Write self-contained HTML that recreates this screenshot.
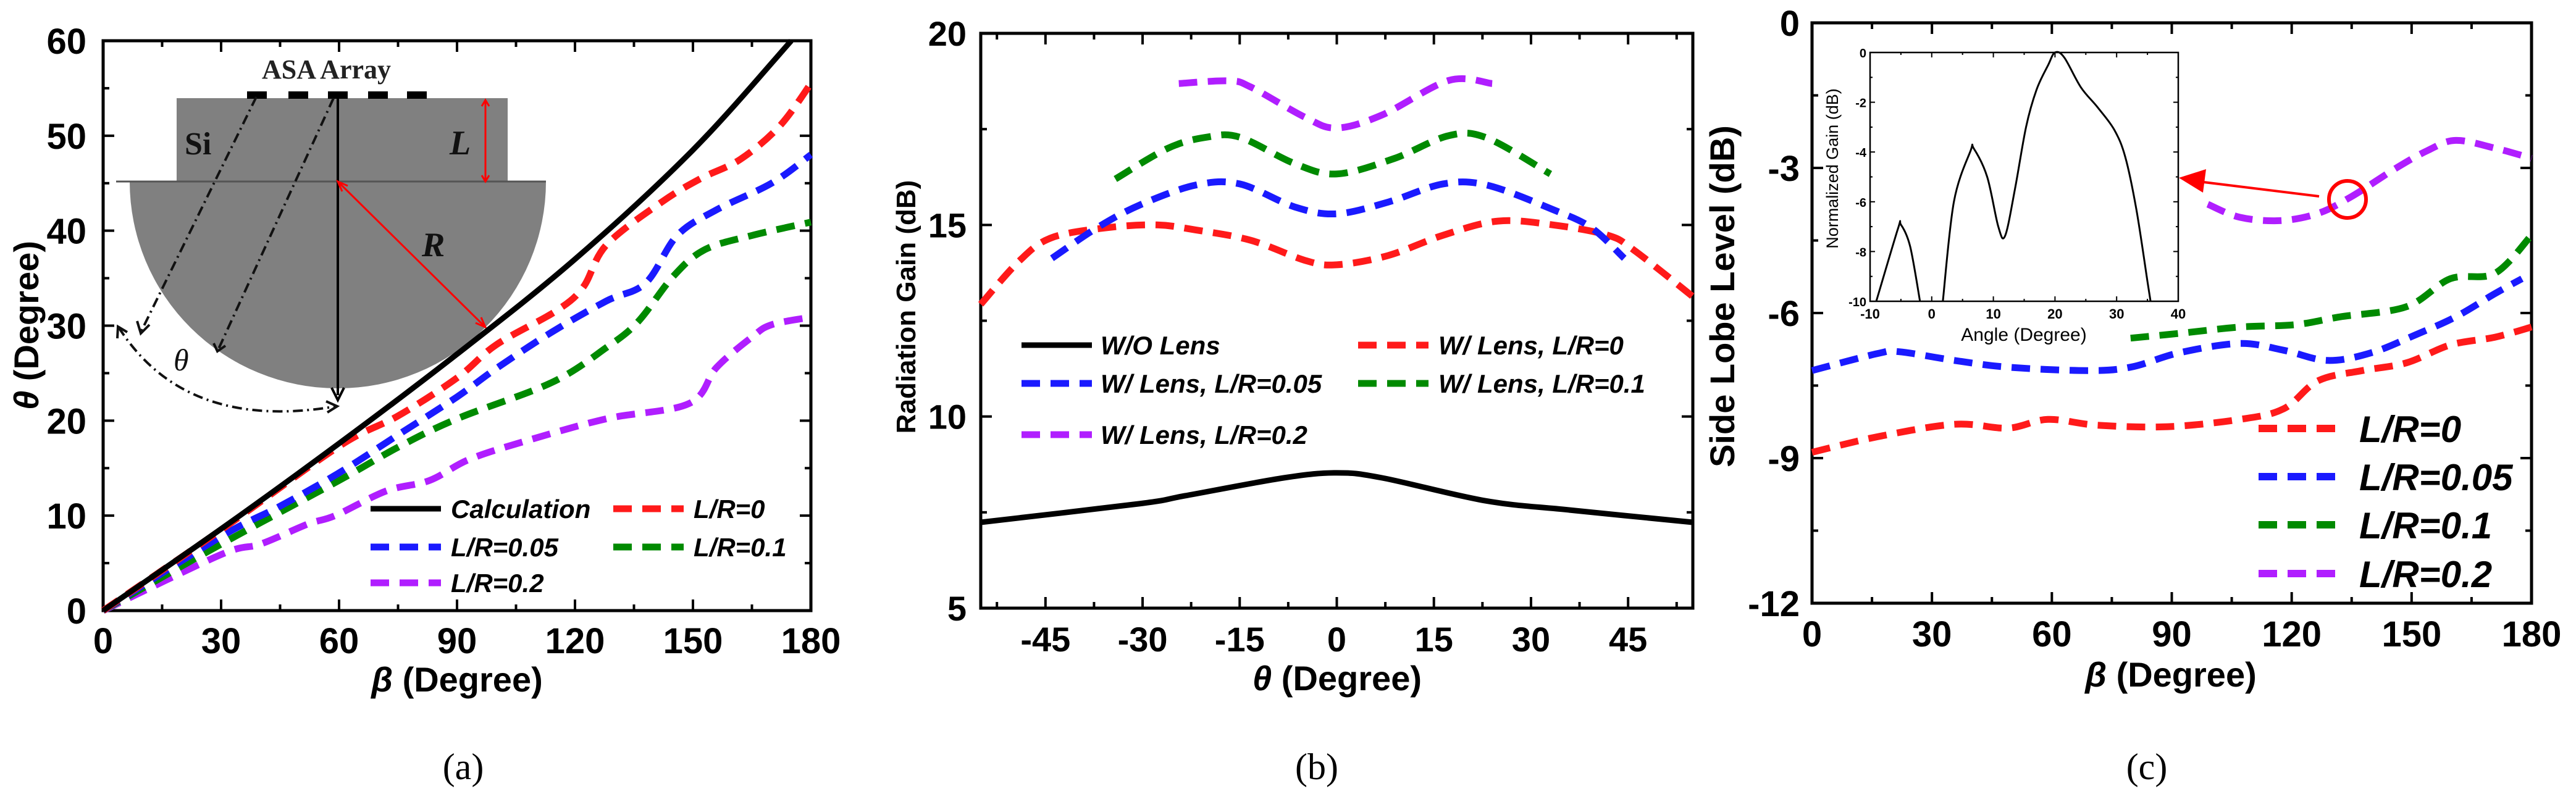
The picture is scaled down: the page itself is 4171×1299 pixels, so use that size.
<!DOCTYPE html>
<html><head><meta charset="utf-8"><style>
html,body{margin:0;padding:0;background:#fff;}
svg{display:block;}
text{font-family:"Liberation Sans",sans-serif;}
.serif{font-family:"Liberation Serif",serif;}
</style></head><body>
<svg id="fig" width="4171" height="1299" viewBox="0 0 4171 1299" xmlns="http://www.w3.org/2000/svg">
<rect width="4171" height="1299" fill="#fff"/>
<g id="schem">
  <path d="M210,294 A337,335 0 0 0 884,294 Z" fill="#808080"/>
  <rect x="286" y="159" width="536" height="135" fill="#808080"/>
  <line x1="188" y1="294" x2="884" y2="294" stroke="#555" stroke-width="3"/>
  <g fill="#000">
    <rect x="400" y="148" width="32" height="12"/><rect x="467" y="148" width="32" height="12"/><rect x="531" y="148" width="32" height="12"/><rect x="596" y="148" width="32" height="12"/><rect x="659" y="148" width="32" height="12"/>
  </g>
  <text x="424" y="127" class="serif" font-size="44" font-weight="bold" fill="#222">ASA Array</text>
  <text x="299" y="250" class="serif" font-size="52" font-weight="bold" fill="#111">Si</text>
  <text x="728" y="250" class="serif" font-size="56" font-weight="bold" font-style="italic" fill="#111">L</text>
  <text x="683" y="415" class="serif" font-size="56" font-weight="bold" font-style="italic" fill="#111">R</text>
  <text x="281" y="600" class="serif" font-size="50" font-style="italic" fill="#111">θ</text>
  <line x1="547" y1="159" x2="547" y2="640" stroke="#000" stroke-width="4"/>
  <path d="M537,628 L547,648 L557,628" fill="none" stroke="#000" stroke-width="4"/>
  <line x1="547" y1="294" x2="786" y2="530" stroke="#f00" stroke-width="3"/>
  <path d="M554,310 L547,294 L563,301 M770,523 L786,530 L779,514" fill="none" stroke="#f00" stroke-width="3"/>
  <line x1="786" y1="163" x2="786" y2="292" stroke="#f00" stroke-width="3"/>
  <path d="M780,172 L786,162 L792,172 M780,284 L786,294 L792,284" fill="none" stroke="#f00" stroke-width="3"/>
  <g stroke="#111" stroke-width="4" fill="none" stroke-dasharray="16 7 3 7">
    <line x1="415" y1="157" x2="228" y2="538"/>
    <line x1="540" y1="159" x2="353" y2="567"/>
    <path d="M192,530 Q300,700 545,658"/>
  </g>
  <path d="M222,520 L228,540 L242,526 M346,556 L352,569 L365,560 M190,548 L191,529 L206,538 M528,650 L546,658 L530,668" fill="none" stroke="#111" stroke-width="4"/>
</g>
<g id="layer"></g>
<text x="750" y="1262" class="serif" font-size="60" text-anchor="middle" fill="#000">(a)</text>
<text x="2132" y="1262" class="serif" font-size="60" text-anchor="middle" fill="#000">(b)</text>
<text x="3476" y="1262" class="serif" font-size="60" text-anchor="middle" fill="#000">(c)</text>
</svg>
<script>
const aCalcX=[0,30,60,90,120,150,175];
const aCalcY=[0,8.6,17.6,27,37,48.5,60];
const aR0X=[0,30,60,75,90,100,115,122,128,142,152,162,172,180];
const aR0Y=[0,8.5,17.3,20.5,24.5,28,31.5,34,38.5,43,45.5,47.5,51,55.5];
const aR05X=[0,30,45,60,75,90,100,114,128,138,146,156,170,180];
const aR05Y=[0,7.8,11,14.5,18.5,22.5,25.5,29.3,32.6,34.5,39.5,42.2,45,48];
const aR1X=[0,30,60,75,90,114,128,136,145,153,165,180];
const aR1Y=[0,7,13.7,17.2,20.2,24,27.7,30.4,35.2,38,39.5,40.9];
const aR2X=[0,30,40,52,59,72,83,93,107,128,149,156,165,170,180];
const aR2Y=[0,5.9,7,9.1,10,12.6,13.7,15.9,17.8,20.2,21.8,25.6,28.8,30.1,30.9];
const aXTicks=["0","30","60","90","120","150","180"];
const aYTicks=["0","10","20","30","40","50","60"];
const bNoX=[-55,-30.3,-23.5,-8.2,0,7,23,36,55];
const bNoY=[7.24,7.73,7.93,8.4,8.53,8.4,7.8,7.56,7.24];
const bR0X=[-55,-49,-44,-35.4,-27.8,-21.8,-13.3,-4.8,0,7.9,16.4,24.9,33.4,41.9,46,55];
const bR0Y=[12.93,14.07,14.67,14.93,15,14.87,14.6,14.07,13.96,14.2,14.73,15.1,15,14.73,14.33,13.13];
const bR05X=[-44,-37,-30.3,-21.8,-15,-6.5,0,8,16.4,23.2,33.4,39.3,44.4];
const bR05Y=[14.13,14.93,15.53,16.04,16.07,15.47,15.29,15.6,16.07,16.04,15.4,14.93,14.13];
const bR1X=[-34.2,-26.1,-20.1,-15,-6.5,0,8.8,17.3,23.2,33];
const bR1Y=[16.2,17,17.29,17.29,16.6,16.33,16.73,17.33,17.27,16.33];
const bR2X=[-24.4,-16.7,-13.3,-4.8,0,7,17.3,24];
const bR2Y=[18.69,18.76,18.6,17.8,17.53,17.87,18.77,18.69];
const bXTicks=["-45","-30","-15","0","15","30","45"];
const bYTicks=["5","10","15","20"];
const cR0X=[0,16.3,35.6,49,59,71.4,89,107,118,126.6,137.7,148.7,159.7,170.8,180];
const cR0Y=[-8.88,-8.56,-8.3,-8.38,-8.2,-8.32,-8.35,-8.2,-7.98,-7.4,-7.19,-7.03,-6.66,-6.5,-6.29];
const cR05X=[0,16.3,21.8,35.6,49,68.7,79.7,92,107,118,129,140,151,161,170.8,177.6];
const cR05Y=[-7.19,-6.84,-6.8,-6.98,-7.12,-7.19,-7.12,-6.82,-6.63,-6.77,-6.98,-6.82,-6.45,-6.08,-5.6,-5.29];
const cR1X=[79.7,92,107,121,132,148.7,159.7,170.8,180];
const cR1Y=[-6.52,-6.42,-6.29,-6.24,-6.08,-5.87,-5.29,-5.18,-4.39];
const cR2X=[99,107,117,126.6,135,146,154,161,170.8,180];
const cR2Y=[-3.75,-4.02,-4.09,-3.94,-3.59,-3.01,-2.64,-2.43,-2.59,-2.8];
const cXTicks=["0","30","60","90","120","150","180"];
const cYTicks=["-12","-9","-6","-3","0"];
const insX=[-9,-5.5,-5,-3.5,-1.9];
const insY=[-10,-7.1,-6.92,-7.8,-10];
const insX2=[1.8,3.6,6.3,6.8,9,10.8,11.9,13.5,15.3,17,18.9,20,21.5,24.2,26.9,29.6,31.4,33.2,35,35.5];
const insY2=[-10,-6,-3.95,-3.85,-5,-7,-7.37,-5.5,-3,-1.5,-0.5,0,-0.2,-1.4,-2.2,-3.1,-4.2,-6.3,-9.2,-10];
const insXTicks=["-10","0","10","20","30","40"];
const insYTicks=["-10","-8","-6","-4","-2","0"];

const NS="http://www.w3.org/2000/svg";
const layer=document.getElementById('layer');
function mk(tag,attrs,parent){const e=document.createElementNS(NS,tag);for(const k in attrs)e.setAttribute(k,attrs[k]);(parent||layer).appendChild(e);return e;}
function scale(d0,d1,p0,p1){return v=>p0+(v-d0)/(d1-d0)*(p1-p0);}
function smooth(pts){let d="M"+pts[0][0].toFixed(1)+","+pts[0][1].toFixed(1);
 for(let i=0;i<pts.length-1;i++){const p0=pts[Math.max(0,i-1)],p1=pts[i],p2=pts[i+1],p3=pts[Math.min(pts.length-1,i+2)];
  const c1=[p1[0]+(p2[0]-p0[0])/6,p1[1]+(p2[1]-p0[1])/6],c2=[p2[0]-(p3[0]-p1[0])/6,p2[1]-(p3[1]-p1[1])/6];
  d+="C"+c1[0].toFixed(1)+","+c1[1].toFixed(1)+" "+c2[0].toFixed(1)+","+c2[1].toFixed(1)+" "+p2[0].toFixed(1)+","+p2[1].toFixed(1);}
 return d;}
function series(xs,ys,sx,sy,color,w,dash,clip){
 const pts=xs.map((x,i)=>[sx(x),sy(ys[i])]);
 const p=mk('path',{d:smooth(pts),fill:'none',stroke:color,'stroke-width':w});
 if(dash)p.setAttribute('stroke-dasharray',dash);
 if(clip)p.setAttribute('clip-path',clip);
 return p;}
function frame(x0,y0,x1,y1,sw,xmaj,ymaj,xmin,ymin,sx,sy,tl,tlm){
 const g=mk('g',{});
 
 
 mk('rect',{x:x0,y:y0,width:x1-x0,height:y1-y0,fill:'none',stroke:'#000','stroke-width':sw},g);
 [[xmaj,tl],[xmin,tlm]].forEach(([arr,len])=>arr.forEach(v=>{const x=sx(v);mk('line',{x1:x,y1:y1,x2:x,y2:y1-len,stroke:'#000','stroke-width':sw*0.8},g);mk('line',{x1:x,y1:y0,x2:x,y2:y0+len,stroke:'#000','stroke-width':sw*0.8},g);}));
 [[ymaj,tl],[ymin,tlm]].forEach(([arr,len])=>arr.forEach(v=>{const y=sy(v);mk('line',{x1:x0,y1:y,x2:x0+len,y2:y,stroke:'#000','stroke-width':sw*0.8},g);mk('line',{x1:x1,y1:y,x2:x1-len,y2:y,stroke:'#000','stroke-width':sw*0.8},g);}));
}
function txt(x,y,s,size,anchor,extra){const t=mk('text',Object.assign({x:x,y:y,'font-size':size,'font-weight':'bold','text-anchor':anchor||'middle',fill:'#000'},extra||{}));t.textContent=s;return t;}
const RED='#ff1a1a',BLUE='#1a1aff',GREEN='#008a00',PURP='#b01eff';
const DASH='30 17';

{
 const sx=scale(0,180,167,1313), sy=scale(0,60,989,66);
 frame(167,66,1313,989,5,[0,30,60,90,120,150,180],[0,10,20,30,40,50,60],[15,45,75,105,135,165],[5,15,25,35,45,55],sx,sy,18,10);
 const cl=mk('clipPath',{id:'clipA'});mk('rect',{x:0,y:60,width:1320,height:940},cl);
 let p;
 p=series(aR2X,aR2Y,sx,sy,PURP,11,DASH,'url(#clipA)');
 
 
 p=series(aR1X,aR1Y,sx,sy,GREEN,11,DASH,'url(#clipA)');
 
 
 p=series(aR05X,aR05Y,sx,sy,BLUE,11,DASH,'url(#clipA)');
 
 
 p=series(aR0X,aR0Y,sx,sy,RED,11,DASH,'url(#clipA)');
 
 
 p=series(aCalcX,aCalcY,sx,sy,'#000',9,null,'url(#clipA)');
 
 
 aXTicks.forEach(s=>{const t=txt(sx(+s),1058,s,58);
  
  });
 aYTicks.forEach(s=>{const t=txt(140,sy(+s)+21,s,58,'end');
  
  });
 let t=txt(740,1120,'',56);t.innerHTML='<tspan font-style="italic">β</tspan> (Degree)';
 
 
 t=txt(0,0,'',56,'middle',{transform:'translate(62,527) rotate(-90)'});t.innerHTML='<tspan font-style="italic">θ</tspan> (Degree)';
 
 
 const leg=[[600,824,'#000',null,'Calculation',730],[993,824,RED,DASH,'L/R=0',1123],[600,886,BLUE,DASH,'L/R=0.05',730],[993,886,GREEN,DASH,'L/R=0.1',1123],[600,944,PURP,DASH,'L/R=0.2',730]];
 leg.forEach(l=>{const g=mk('g',{});
  
  
  const ln=mk('line',{x1:l[0],y1:l[1],x2:l[0]+114,y2:l[1],stroke:l[2],'stroke-width':l[3]?11:9},g);if(l[3])ln.setAttribute('stroke-dasharray',l[3]);
  const tt=mk('text',{x:l[5],y:l[1]+15,'font-size':42,'font-weight':'bold','font-style':'italic'},g);tt.textContent=l[4];});
}
{
 const sx=scale(-55,55,1588,2741), sy=scale(5,20,985,54);
 frame(1588,54,2741,985,5,[-45,-30,-15,0,15,30,45],[5,10,15,20],[-52.5,-37.5,-22.5,-7.5,7.5,22.5,37.5,52.5],[7.5,12.5,17.5],sx,sy,18,10);
 let p;
 p=series(bNoX,bNoY,sx,sy,'#000',9,null);
 
 
 p=series(bR0X,bR0Y,sx,sy,RED,11,DASH);
 
 
 p=series(bR05X,bR05Y,sx,sy,BLUE,11,DASH);
 
 
 p=series(bR1X,bR1Y,sx,sy,GREEN,11,DASH);
 
 
 p=series(bR2X,bR2Y,sx,sy,PURP,11,DASH);
 
 
 bXTicks.forEach(s=>{const t=txt(sx(+s),1055,s,56);
  
  });
 bYTicks.forEach(s=>{const t=txt(1565,sy(+s)+20,s,56,'end');
  
  });
 let t=txt(2165,1118,'',56);t.innerHTML='<tspan font-style="italic">θ</tspan> (Degree)';
 
 
 t=txt(0,0,'Radiation Gain (dB)',44,'middle',{transform:'translate(1482,497) rotate(-90)'});
 
 
 const leg=[[1654,559,'#000',null,'W/O Lens',1782],[2199,559,RED,DASH,'W/ Lens, L/R=0',2329],[1654,621,BLUE,DASH,'W/ Lens, L/R=0.05',1782],[2199,621,GREEN,DASH,'W/ Lens, L/R=0.1',2329],[1654,704,PURP,DASH,'W/ Lens, L/R=0.2',1782]];
 leg.forEach(l=>{const g=mk('g',{});
  
  
  const ln=mk('line',{x1:l[0],y1:l[1],x2:l[0]+114,y2:l[1],stroke:l[2],'stroke-width':l[3]?11:9},g);if(l[3])ln.setAttribute('stroke-dasharray',l[3]);
  const tt=mk('text',{x:l[5],y:l[1]+15,'font-size':42,'font-weight':'bold','font-style':'italic'},g);tt.textContent=l[4];});
}
{
 const sx=scale(0,180,2934,4099), sy=scale(-12,0,977,37);
 frame(2934,37,4099,977,5,[0,30,60,90,120,150,180],[-12,-9,-6,-3,0],[15,45,75,105,135,165],[-10.5,-7.5,-4.5,-1.5],sx,sy,18,10);
 let p;
 p=series(cR0X,cR0Y,sx,sy,RED,11,DASH);
 
 
 p=series(cR05X,cR05Y,sx,sy,BLUE,11,DASH);
 
 
 p=series(cR1X,cR1Y,sx,sy,GREEN,11,DASH);
 
 
 p=series(cR2X,cR2Y,sx,sy,PURP,11,DASH);
 
 
 cXTicks.forEach(s=>{const t=txt(sx(+s),1047,s,58);
  
  });
 cYTicks.forEach(s=>{const t=txt(2914,sy(+s)+21,s,58,'end');
  
  });
 let t=txt(3515,1112,'',56);t.innerHTML='<tspan font-style="italic">β</tspan> (Degree)';
 
 
 t=txt(0,0,'Side Lobe Level (dB)',56,'middle',{transform:'translate(2808,480) rotate(-90)'});
 
 
 const leg=[[694,RED,'L/R=0'],[772,BLUE,'L/R=0.05'],[850,GREEN,'L/R=0.1'],[929,PURP,'L/R=0.2']];
 leg.forEach(l=>{const g=mk('g',{});
  
  
  mk('line',{x1:3657,y1:l[0],x2:3793,y2:l[0],stroke:l[1],'stroke-width':12,'stroke-dasharray':DASH},g);
  const tt=mk('text',{x:3820,y:l[0]+22,'font-size':60,'font-weight':'bold','font-style':'italic'},g);tt.textContent=l[2];});
 const c=mk('circle',{cx:3801,cy:323,r:30,fill:'none',stroke:'#f00','stroke-width':6});
 
 
 const ar=mk('line',{x1:3755,y1:318,x2:3560,y2:294,stroke:'#f00','stroke-width':4});
 
 
 mk('path',{d:'M3528,288 L3572,274 L3567,312 Z',fill:'#f00'});
}
{
 const x0=3028,x1=3527,y0=85,y1=488;
 const sx=scale(-10,40,x0,x1), sy=scale(-10,0,y1,y0);
 mk('rect',{x:x0,y:y0,width:x1-x0,height:y1-y0,fill:'#fff'});
 frame(x0,y0,x1,y1,2.5,[-10,0,10,20,30,40],[-10,-8,-6,-4,-2,0],[-5,5,15,25,35],[-9,-7,-5,-3,-1],sx,sy,8,4);
 const cl=mk('clipPath',{id:'clipI'});mk('rect',{x:x0,y:y0-3,width:x1-x0,height:y1-y0+3},cl);
 let p=series(insX,insY,sx,sy,'#000',3,null,'url(#clipI)');
 
 
 p=series(insX2,insY2,sx,sy,'#000',3,null,'url(#clipI)');
 
 
 insXTicks.forEach(s=>{const t=txt(sx(+s),516,s,22);
  
  });
 insYTicks.forEach(s=>{const t=txt(x0-6,sy(+s)+8,s,20,'end');
  
  });
 let t=txt(3277,552,'Angle (Degree)',30,'middle',{'font-weight':'normal'});
 
 
 t=txt(0,0,'Normalized Gain (dB)',27,'middle',{'font-weight':'normal',transform:'translate(2976,273) rotate(-90)'});
 
 
}
</script>
</body></html>
